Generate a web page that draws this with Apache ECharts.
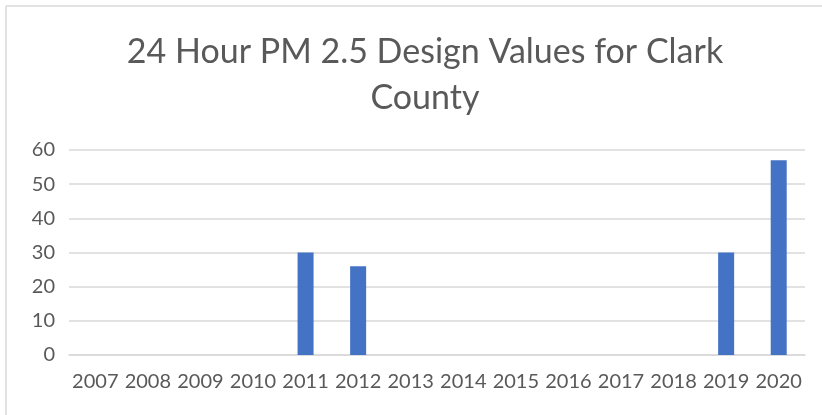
<!DOCTYPE html>
<html>
<head>
<meta charset="utf-8">
<script src="https://cdn.jsdelivr.net/npm/echarts@6/dist/echarts.min.js"></script>
<style>
  html, body { margin: 0; padding: 0; background: #fff; }
  #main { width: 822px; height: 415px; }
</style>
</head>
<body>
<div id="main"></div>
<script>
const years = ['2007', '2008', '2009', '2010', '2011', '2012', '2013', '2014', '2015', '2016', '2017', '2018', '2019', '2020'];
const designValues = [null, null, null, null, 30, 26, null, null, null, null, null, null, 30, 57];
const yTicks = [0, 10, 20, 30, 40, 50, 60];

const chart = echarts.init(document.getElementById('main'));
const textColor = '#595959';
const font = 'Lato, "Open Sans", sans-serif';

const option = {
    animation: false,
    backgroundColor: '#fff',
    title: {
        text: '24 Hour PM 2.5 Design Values for Clark\nCounty',
        left: 420,
        top: 24,
        textAlign: 'center',
        textStyle: {
            fontFamily: font,
            fontSize: 34,
            fontWeight: 'normal',
            color: textColor,
            lineHeight: 46
        }
    },
    graphic: [
        { type: 'line', shape: { x1: 6, y1: 6, x2: 822, y2: 6 }, style: { stroke: '#d9d9d9', lineWidth: 1.5 } },
        { type: 'line', shape: { x1: 6, y1: 6, x2: 6, y2: 415 }, style: { stroke: '#d9d9d9', lineWidth: 1.5 } }
    ],
    grid: { left: 69, right: 17, top: 150, bottom: 60 },
    xAxis: {
        type: 'category',
        data: years,
        axisLine: { show: true, lineStyle: { color: '#d9d9d9', width: 1.5 } },
        axisTick: { show: false },
        axisLabel: { color: textColor, fontFamily: font, fontSize: 20, margin: 17, interval: 0 }
    },
    yAxis: {
        type: 'value',
        min: yTicks[0],
        max: yTicks[yTicks.length - 1],
        interval: 10,
        axisLine: { show: false },
        axisTick: { show: false },
        splitLine: { lineStyle: { color: '#d9d9d9', width: 1.5 } },
        axisLabel: { color: textColor, fontFamily: font, fontSize: 20, margin: 14 }
    },
    series: [{
        type: 'bar',
        data: designValues,
        barWidth: 16,
        itemStyle: { color: '#4472C4' }
    }]
};
chart.setOption(option);
</script>
</body>
</html>
